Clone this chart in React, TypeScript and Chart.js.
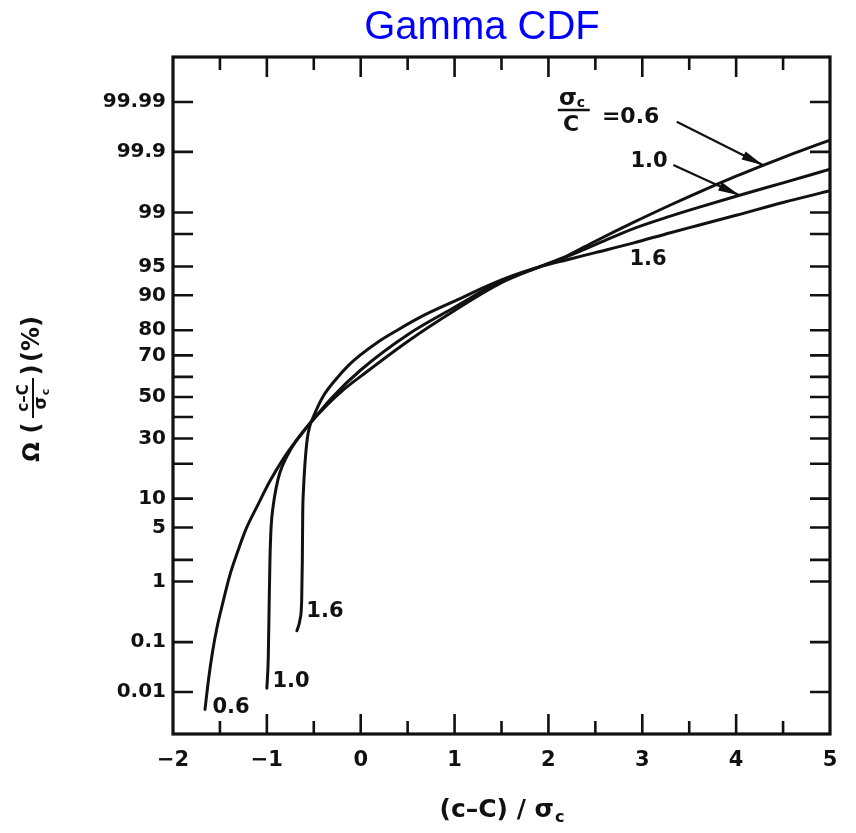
import React, { useEffect, useRef } from "react";
import { Chart, registerables } from "chart.js";

Chart.register(...registerables);

// ---------------- data ----------------
const X_MIN = -2;
const X_MAX = 5;
const Z_MIN = -4.249; // probit units (bottom of frame)
const Z_MAX = 4.286; // probit units (top of frame)

const xTickValues = [-2, -1, 0, 1, 2, 3, 4, 5];
const xTickLabels = ["\u22122", "\u22121", "0", "1", "2", "3", "4", "5"];
const xMarkValues = [-1.5, -1, -0.5, 0, 0.5, 1, 1.5, 2, 2.5, 3, 3.5, 4, 4.5];

const yTickPercents = [0.01, 0.1, 1, 5, 10, 30, 50, 70, 80, 90, 95, 99, 99.9, 99.99];
const yTickLabels = ["0.01", "0.1", "1", "5", "10", "30", "50", "70", "80", "90", "95", "99", "99.9", "99.99"];
const yMarkPercents = [0.01, 0.1, 1, 2, 5, 10, 20, 30, 40, 50, 60, 70, 80, 90, 95, 98, 99, 99.9, 99.99];

// sigma_c / C = 0.6
const curve06X = [-1.659, -1.62, -1.58, -1.53, -1.47, -1.4, -1.32, -1.22, -1.1, -0.967, -0.825, -0.682, -0.54, -0.35, -0.2, 0, 0.5, 1, 1.5, 1.9, 2.2, 2.5, 2.9, 3.3, 3.6, 4, 4.3, 4.6, 5];
const curve06P = [0.0041, 0.0193, 0.064, 0.187, 0.466, 1.16, 2.385, 4.846, 8.534, 14.46, 21.77, 29.39, 36.99, 46.41, 52.99, 60.26, 75.8, 86.21, 92.51, 94.93, 96.25, 97.52, 98.6, 99.224, 99.506, 99.731, 99.829, 99.891, 99.94];

// sigma_c / C = 1.0
const curve10X = [-1.0, -0.985, -0.975, -0.967, -0.955, -0.931, -0.9, -0.86, -0.8, -0.75, -0.7, -0.6, -0.5, -0.3, 0, 0.5, 1, 1.5, 1.9, 2.2, 2.5, 2.9, 3.3, 3.6, 4, 4.5, 5];
const curve10P = [0.012, 0.05, 0.5, 2.0, 5.0, 8.69, 12.71, 17.11, 21.77, 25.14, 28.26, 33.72, 39.17, 50.0, 63.31, 78.38, 87.08, 92.82, 94.93, 96.16, 97.26, 98.3, 98.87, 99.158, 99.43, 99.653, 99.795];

// sigma_c / C = 1.6
const curve16X = [-0.68, -0.647, -0.629, -0.622, -0.618, -0.61, -0.594, -0.569, -0.54, -0.506, -0.404, -0.27, -0.13, -0.009, 0.2, 0.389, 0.65, 0.975, 1.5, 1.9, 2.2, 2.5, 2.9, 3.3, 3.6, 4, 4.5, 5];
const curve16P = [0.16, 0.25, 0.52, 2.0, 7.0, 12.0, 20.0, 30.0, 36.0, 40.0, 50.0, 58.5, 65.5, 70.0, 76.0, 80.0, 84.5, 88.4, 92.99, 94.93, 95.82, 96.56, 97.38, 98.08, 98.48, 98.9, 99.29, 99.534];

const curveNames = ["0.6", "1.0", "1.6"];

// ---------------- annotation layout (axis units: x, probit z) ----------------
const curveLabels = [
  { text: "1.0", x: 3.072, z: 2.963 },
  { text: "1.6", x: 3.061, z: 1.727 },
  { text: "1.6", x: -0.381, z: -2.711 },
  { text: "1.0", x: -0.743, z: -3.593 },
  { text: "0.6", x: -1.382, z: -3.921 },
];
const arrows = [
  { fx: 3.367, fz: 3.471, tx: 4.289, tz: 2.92 },
  { fx: 3.331, fz: 2.925, tx: 4.041, tz: 2.54 },
];
const fractionPos = { x: 2.24, zTop: 3.757, zBar: 3.618, zBottom: 3.43, x0: 2.1, x1: 2.44, eqX: 2.57, eqZ: 3.53 };

const INK = "#111111";
const FONT = '"DejaVu Sans", sans-serif';

// inverse standard normal CDF (Acklam)
function probit(p: number): number {
  const a = [-3.969683028665376e1, 2.209460984245205e2, -2.759285104469687e2, 1.38357751867269e2, -3.066479806614716e1, 2.506628277459239];
  const b = [-5.447609879822406e1, 1.615858368580409e2, -1.556989798598866e2, 6.680131188771972e1, -1.328068155288572e1];
  const c = [-7.784894002430293e-3, -3.223964580411365e-1, -2.400758277161838, -2.549732539343734, 4.374664141464968, 2.938163982698783];
  const d = [7.784695709041462e-3, 3.224671290700398e-1, 2.445134137142996, 3.754408661907416];
  const plow = 0.02425;
  if (p < plow) {
    const q = Math.sqrt(-2 * Math.log(p));
    return (((((c[0] * q + c[1]) * q + c[2]) * q + c[3]) * q + c[4]) * q + c[5]) / ((((d[0] * q + d[1]) * q + d[2]) * q + d[3]) * q + 1);
  }
  if (p <= 1 - plow) {
    const q = p - 0.5;
    const r = q * q;
    return ((((((a[0] * r + a[1]) * r + a[2]) * r + a[3]) * r + a[4]) * r + a[5]) * q) / (((((b[0] * r + b[1]) * r + b[2]) * r + b[3]) * r + b[4]) * r + 1);
  }
  const q = Math.sqrt(-2 * Math.log(1 - p));
  return -(((((c[0] * q + c[1]) * q + c[2]) * q + c[3]) * q + c[4]) * q + c[5]) / ((((d[0] * q + d[1]) * q + d[2]) * q + d[3]) * q + 1);
}

const toPoints = (xs: number[], ps: number[]) => xs.map((x, i) => ({ x, y: probit(ps[i] / 100) }));

function rotText(ctx: CanvasRenderingContext2D, text: string, sx: number, sy: number, font: string) {
  ctx.save();
  ctx.translate(sx, sy);
  ctx.rotate(-Math.PI / 2);
  ctx.font = font;
  ctx.textAlign = "center";
  ctx.textBaseline = "middle";
  ctx.fillText(text, 0, 0);
  ctx.restore();
}

const decorPlugin = {
  id: "decor",
  afterDraw(chart: any) {
    const { ctx, chartArea } = chart;
    const { left, right, top, bottom } = chartArea;
    const xs = chart.scales.x;
    const ys = chart.scales.y;
    const px = (v: number) => xs.getPixelForValue(v);
    const py = (z: number) => ys.getPixelForValue(z);
    ctx.save();
    ctx.strokeStyle = INK;
    ctx.fillStyle = INK;
    ctx.lineCap = "butt";

    // frame
    ctx.lineWidth = 3.2;
    ctx.strokeRect(left, top, right - left, bottom - top);

    // inward tick marks
    ctx.lineWidth = 2.6;
    ctx.beginPath();
    for (const v of xMarkValues) {
      const X = px(v);
      const len = Number.isInteger(v) ? 20 : 13;
      ctx.moveTo(X, bottom);
      ctx.lineTo(X, bottom - len);
      ctx.moveTo(X, top);
      ctx.lineTo(X, top + len);
    }
    for (const p of yMarkPercents) {
      const Y = py(probit(p / 100));
      ctx.moveTo(left, Y);
      ctx.lineTo(left + 20, Y);
      ctx.moveTo(right, Y);
      ctx.lineTo(right - 20, Y);
    }
    ctx.stroke();

    // curve labels
    ctx.font = `bold 21px ${FONT}`;
    ctx.textAlign = "center";
    ctx.textBaseline = "middle";
    for (const l of curveLabels) ctx.fillText(l.text, px(l.x), py(l.z));

    // sigma_c / C = 0.6
    const fx = px(fractionPos.x);
    ctx.font = `bold 23px ${FONT}`;
    ctx.fillText("\u03c3", fx - 3, py(fractionPos.zTop));
    ctx.font = `bold 14px ${FONT}`;
    ctx.fillText("c", fx + 10, py(fractionPos.zTop) + 4);
    ctx.font = `bold 22px ${FONT}`;
    ctx.fillText("C", fx, py(fractionPos.zBottom));
    ctx.lineWidth = 2.4;
    ctx.beginPath();
    ctx.moveTo(px(fractionPos.x0), py(fractionPos.zBar));
    ctx.lineTo(px(fractionPos.x1), py(fractionPos.zBar));
    ctx.stroke();
    ctx.textAlign = "left";
    ctx.font = `bold 22px ${FONT}`;
    ctx.fillText("=0.6", px(fractionPos.eqX), py(fractionPos.eqZ));

    // arrows
    for (const a of arrows) {
      const x0 = px(a.fx), y0 = py(a.fz), x1 = px(a.tx), y1 = py(a.tz);
      ctx.lineWidth = 2.2;
      ctx.beginPath();
      ctx.moveTo(x0, y0);
      ctx.lineTo(x1, y1);
      ctx.stroke();
      const ang = Math.atan2(y1 - y0, x1 - x0);
      const L = 22, W = 4.5;
      const bx = x1 - L * Math.cos(ang), by = y1 - L * Math.sin(ang);
      ctx.beginPath();
      ctx.moveTo(x1, y1);
      ctx.lineTo(bx + W * Math.sin(ang), by - W * Math.cos(ang));
      ctx.lineTo(bx - W * Math.sin(ang), by + W * Math.cos(ang));
      ctx.closePath();
      ctx.fill();
    }

    // chart title
    ctx.fillStyle = "#0000ff";
    ctx.font = `40px "Liberation Sans", Arial, sans-serif`;
    ctx.textAlign = "center";
    ctx.textBaseline = "alphabetic";
    ctx.fillText("Gamma CDF", 482, 39);

    // x axis title: (c–C) / σc
    ctx.fillStyle = INK;
    const mainT = "(c\u2013C) / \u03c3";
    ctx.font = `bold 25px ${FONT}`;
    const w1 = ctx.measureText(mainT).width;
    ctx.font = `bold 16px ${FONT}`;
    const w2 = ctx.measureText("c").width;
    const cx = (left + right) / 2;
    const sx = cx - (w1 + w2) / 2;
    ctx.textAlign = "left";
    ctx.font = `bold 25px ${FONT}`;
    ctx.fillText(mainT, sx, 817);
    ctx.font = `bold 16px ${FONT}`;
    ctx.fillText("c", sx + w1 + 1, 822);

    // y axis title: Ω ((c–C)/σc) (%)
    const fp = `bold 24px ${FONT}`;
    rotText(ctx, "\u03a9", 33, 452, `bold 23px ${FONT}`);
    rotText(ctx, "(", 33, 428, fp);
    rotText(ctx, "c\u2013C", 24, 398, `bold 15px ${FONT}`);
    ctx.lineWidth = 2;
    ctx.beginPath();
    ctx.moveTo(33, 378);
    ctx.lineTo(33, 418);
    ctx.stroke();
    rotText(ctx, "\u03c3", 42, 403, `bold 17px ${FONT}`);
    rotText(ctx, "c", 46, 392, `bold 11px ${FONT}`);
    rotText(ctx, ")", 33, 370, fp);
    rotText(ctx, "(%)", 33, 339, fp);

    ctx.restore();
  },
};

export default function App() {
  const ref = useRef<HTMLCanvasElement | null>(null);

  useEffect(() => {
    document.body.style.margin = "0";
    document.body.style.overflow = "hidden";
    const canvas = ref.current;
    if (!canvas) return;
    const seriesX = [curve06X, curve10X, curve16X];
    const seriesP = [curve06P, curve10P, curve16P];
    const chart = new Chart(canvas, {
      type: "line",
      data: {
        datasets: curveNames.map((name, i) => ({
          label: `\u03c3c/C = ${name}`,
          data: toPoints(seriesX[i], seriesP[i]),
          borderColor: INK,
          borderWidth: 3,
          pointRadius: 0,
          fill: false,
          cubicInterpolationMode: "monotone",
          borderCapStyle: "round",
          borderJoinStyle: "round",
        })),
      },
      options: {
        animation: false,
        responsive: false,
        devicePixelRatio: 1,
        layout: { padding: { left: 0, top: 57, right: 26, bottom: 0 } },
        plugins: {
          legend: { display: false },
          tooltip: { enabled: false },
          title: { display: false },
        },
        scales: {
          x: {
            type: "linear",
            min: X_MIN,
            max: X_MAX,
            afterBuildTicks: (s: any) => {
              s.ticks = xTickValues.map((v) => ({ value: v }));
            },
            afterFit: (s: any) => {
              s.height = 99;
            },
            grid: { display: false, drawTicks: false },
            border: { display: false },
            ticks: {
              autoSkip: false,
              maxRotation: 0,
              padding: 14,
              color: INK,
              font: { family: "DejaVu Sans", size: 21, weight: "bold" },
              callback: (_v: any, i: number) => xTickLabels[i],
            },
          },
          y: {
            type: "linear",
            min: Z_MIN,
            max: Z_MAX,
            afterBuildTicks: (s: any) => {
              s.ticks = yTickPercents.map((p) => ({ value: probit(p / 100) }));
            },
            afterFit: (s: any) => {
              s.width = 173;
            },
            grid: { display: false, drawTicks: false },
            border: { display: false },
            ticks: {
              autoSkip: false,
              padding: 7,
              color: INK,
              font: { family: "DejaVu Sans", size: 20, weight: "bold" },
              callback: (_v: any, i: number) => yTickLabels[i],
            },
          },
        },
      },
      plugins: [decorPlugin],
    } as any);
    return () => chart.destroy();
  }, []);

  return <canvas ref={ref} width={856} height={833} style={{ display: "block" }} />;
}
